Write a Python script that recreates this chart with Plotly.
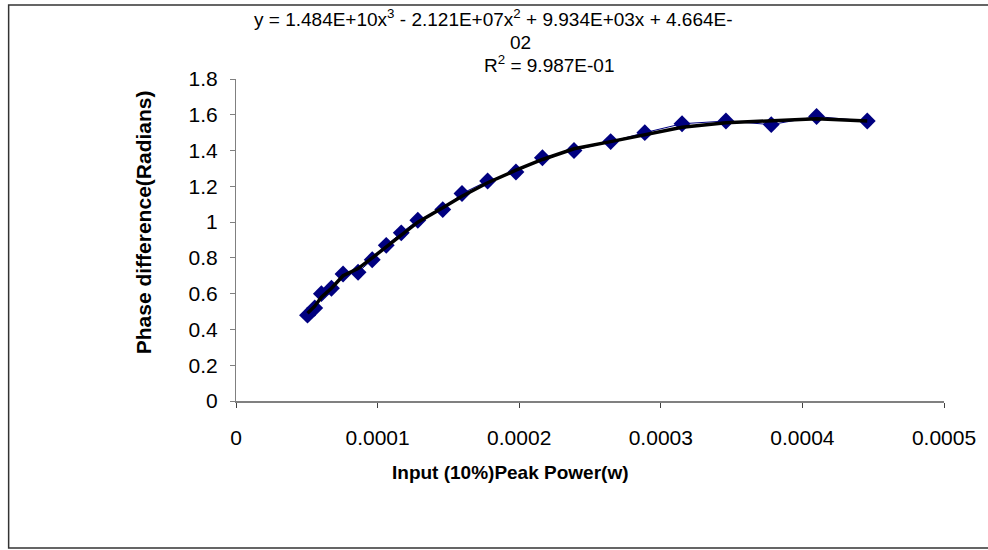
import plotly.graph_objects as go

# ---- data ----
power_w = [0.0000505, 0.0000556, 0.0000603, 0.0000674, 0.0000756, 0.0000862, 0.0000962,
           0.0001061, 0.0001167, 0.0001284, 0.0001460, 0.0001596, 0.0001777, 0.0001977,
           0.0002164, 0.0002387, 0.0002646, 0.0002887, 0.0003150, 0.0003460, 0.0003780,
           0.0004100, 0.0004458]
phase_rad = [0.48, 0.52, 0.60, 0.63, 0.71, 0.72, 0.79, 0.87, 0.94, 1.01, 1.07, 1.16,
             1.23, 1.28, 1.36, 1.40, 1.45, 1.50, 1.55, 1.565, 1.545, 1.59, 1.565]
trend_rad = [0.49, 0.53, 0.58, 0.63, 0.70, 0.74, 0.80, 0.86, 0.93, 1.00, 1.08, 1.145,
             1.22, 1.29, 1.35, 1.41, 1.45, 1.49, 1.53, 1.555, 1.565, 1.578, 1.565]
x_ticks = [0, 0.0001, 0.0002, 0.0003, 0.0004, 0.0005]
x_tick_text = ["0", "0.0001", "0.0002", "0.0003", "0.0004", "0.0005"]
y_ticks = [0, 0.2, 0.4, 0.6, 0.8, 1.0, 1.2, 1.4, 1.6, 1.8]
y_tick_text = ["0", "0.2", "0.4", "0.6", "0.8", "1", "1.2", "1.4", "1.6", "1.8"]
eq_line1 = "y = 1.484E+10x<sup>3</sup> - 2.121E+07x<sup>2</sup> + 9.934E+03x + 4.664E-"
eq_line2 = "02"
eq_line3 = "R<sup>2</sup> = 9.987E-01"
x_title = "Input (10%)Peak Power(w)"
y_title = "Phase difference(Radians)"

# ---- layout geometry (pixels) ----
W, H = 988, 550
L, R, T, B = 236, 946, 79, 401
pw, ph = R - L, B - T


def px(x):
    return (x - L) / pw


def py(y):
    return (B - y) / ph


FONT = "Liberation Sans, Arial, sans-serif"

fig = go.Figure()
fig.add_trace(go.Scatter(
    x=power_w, y=phase_rad, mode="lines+markers",
    line=dict(color="#000080", width=1),
    marker=dict(symbol="diamond", size=13, color="#000080"),
    showlegend=False, cliponaxis=False))
fig.add_trace(go.Scatter(
    x=power_w, y=trend_rad, mode="lines",
    line=dict(color="black", width=3.5),
    showlegend=False, cliponaxis=False))

fig.update_layout(
    width=W, height=H,
    margin=dict(l=L, r=W - R, t=T, b=H - B, pad=0),
    paper_bgcolor="white", plot_bgcolor="white",
    font=dict(family=FONT, size=19, color="black"),
    xaxis=dict(range=[0, 0.0005], tickvals=x_ticks, ticktext=x_tick_text,
               showgrid=False, zeroline=False, showline=True, linecolor="#808080",
               linewidth=2, ticks="outside", ticklen=5, tickcolor="#404040",
               tickwidth=1, ticklabelstandoff=12, fixedrange=True,
               tickfont=dict(family=FONT, size=21)),
    yaxis=dict(range=[0, 1.8], tickvals=y_ticks, ticktext=y_tick_text,
               showgrid=False, zeroline=False, showline=True, linecolor="#808080",
               linewidth=1, ticks="outside", ticklen=5, tickcolor="#808080",
               tickwidth=1, ticklabelstandoff=8, fixedrange=True,
               tickfont=dict(family=FONT, size=21)),
    shapes=[dict(type="rect", xref="paper", yref="paper",
                 x0=px(8), x1=px(1000), y0=py(548), y1=py(5),
                 line=dict(color="#333333", width=1.5), fillcolor="rgba(0,0,0,0)",
                 layer="below")],
    annotations=[
        dict(text=eq_line1, xref="paper", yref="paper", x=px(494), y=py(18),
             showarrow=False, xanchor="center", yanchor="middle",
             font=dict(family=FONT, size=19)),
        dict(text=eq_line2, xref="paper", yref="paper", x=px(521), y=py(42),
             showarrow=False, xanchor="center", yanchor="middle",
             font=dict(family=FONT, size=19)),
        dict(text=eq_line3, xref="paper", yref="paper", x=px(550), y=py(64),
             showarrow=False, xanchor="center", yanchor="middle",
             font=dict(family=FONT, size=19)),
        dict(text="<b>" + x_title + "</b>", xref="paper", yref="paper",
             x=px(511), y=py(472), showarrow=False, xanchor="center", yanchor="middle",
             font=dict(family=FONT, size=19)),
        dict(text="<b>" + y_title + "</b>", xref="paper", yref="paper",
             x=px(143), y=py(222), showarrow=False, xanchor="center", yanchor="middle",
             textangle=-90, font=dict(family=FONT, size=21)),
    ],
)

fig.write_html("out.html")
